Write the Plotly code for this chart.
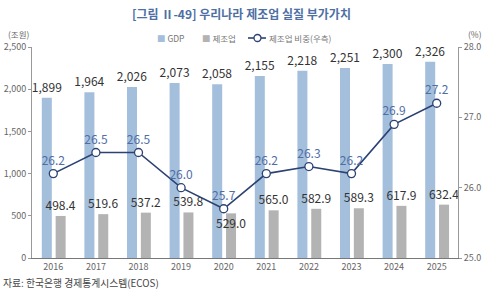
import plotly.graph_objects as go

years = [2016, 2017, 2018, 2019, 2020, 2021, 2022, 2023, 2024, 2025]
year_labels = [str(y) for y in years]
gdp = [1899, 1964, 2026, 2073, 2058, 2155, 2218, 2251, 2300, 2326]
mfg = [498.4, 519.6, 537.2, 539.8, 529.0, 565.0, 582.9, 589.3, 617.9, 632.4]
share = [26.2, 26.5, 26.5, 26.0, 25.7, 26.2, 26.3, 26.2, 26.9, 27.2]
series_names = ["GDP", "제조업", "제조업 비중(우측)"]

FONT = "Noto Sans CJK KR"
NUMFONT = "Liberation Sans Narrow, Noto Sans CJK KR"
BLUE_BAR = "#a4bfdc"
GREY_BAR = "#b3b3b3"
NAVY = "#2c4272"
LBL_BLUE = "#4f6ea6"

W = 0.235
OFF_G = -0.27
OFF_M = 0.055

gdp_txt = [f"{v:,}" for v in gdp]
mfg_txt = [f"{v:.1f}" for v in mfg]
mfg_txt_bar = [("" if y == 2020 else t) for y, t in zip(years, mfg_txt)]

fig = go.Figure()
fig.add_trace(go.Bar(
    x=years, y=gdp, name=series_names[0], width=W, offset=OFF_G,
    marker=dict(color=BLUE_BAR, line=dict(width=0)),
    text=gdp_txt, textposition="outside", cliponaxis=False, constraintext="none",
    textangle=0, showlegend=False,
    textfont=dict(family=NUMFONT, size=12, color="#333333"),
))
fig.add_trace(go.Bar(
    x=years, y=mfg, name=series_names[1], width=W, offset=OFF_M,
    marker=dict(color=GREY_BAR, line=dict(width=0)),
    text=mfg_txt_bar, textposition="outside", cliponaxis=False, constraintext="none",
    textangle=0, showlegend=False,
    textfont=dict(family=NUMFONT, size=12, color="#333333"),
))
fig.add_trace(go.Scatter(
    x=years, y=share, name=series_names[2], yaxis="y2",
    mode="lines+markers+text", showlegend=False,
    line=dict(color=NAVY, width=1.6),
    marker=dict(size=8, color="white", line=dict(color=NAVY, width=1.3)),
    text=[f"{v:.1f}" for v in share], textposition="top center",
    textfont=dict(family=NUMFONT, size=12, color=LBL_BLUE),
    cliponaxis=False,
))

i20 = years.index(2020)
fig.add_annotation(
    x=years[i20] + OFF_M + W / 2, y=mfg[i20], xref="x", yref="y",
    text=mfg_txt[i20], showarrow=False, yshift=-9,
    font=dict(family=NUMFONT, size=12, color="#333333"),
)

# ---- compact legend (paper coordinates) ----
PX0, PW, PY0, PH = 32, 426, 258, 211
def px(x):
    return (x - PX0) / PW
def py(y):
    return (PY0 - y) / PH

LEG_Y = 38
leg_font = dict(family=FONT, size=8.5, color="#777777")
fig.add_annotation(x=px(155), y=py(LEG_Y), xref="paper", yref="paper", xanchor="left",
                   yanchor="middle", showarrow=False, font=leg_font,
                   text=f"<span style='color:{BLUE_BAR}'>■</span> {series_names[0]}")
fig.add_annotation(x=px(200), y=py(LEG_Y), xref="paper", yref="paper", xanchor="left",
                   yanchor="middle", showarrow=False, font=leg_font,
                   text=f"<span style='color:{GREY_BAR}'>■</span> {series_names[1]}")
fig.add_shape(type="line", xref="paper", yref="paper", x0=px(248), x1=px(266),
              y0=py(LEG_Y), y1=py(LEG_Y), line=dict(color=NAVY, width=1.6))
fig.add_shape(type="circle", xref="paper", yref="paper", x0=px(254), x1=px(261),
              y0=py(LEG_Y + 3.5), y1=py(LEG_Y - 3.5), fillcolor="white",
              line=dict(color=NAVY, width=1.3))
fig.add_annotation(x=px(267), y=py(LEG_Y), xref="paper", yref="paper", xanchor="left",
                   yanchor="middle", showarrow=False, font=leg_font,
                   text=series_names[2])

fig.add_annotation(x=0, y=1, xref="paper", yref="paper", xanchor="right",
                   yanchor="bottom", xshift=0, yshift=5, text="(조원)", showarrow=False,
                   font=dict(family=FONT, size=8.5, color="#666666"))
fig.add_annotation(x=1, y=1, xref="paper", yref="paper", xanchor="left",
                   yanchor="bottom", xshift=8, yshift=5, text="(%)", showarrow=False,
                   font=dict(family=FONT, size=8.5, color="#666666"))
fig.add_annotation(x=0, y=0, xref="paper", yref="paper", xanchor="left",
                   yanchor="middle", xshift=-31, yshift=-25, text="자료: 한국은행 경제통계시스템(ECOS)",
                   showarrow=False, font=dict(family=FONT, size=9.8, color="#444444"))

fig.update_layout(
    width=483, height=290,
    margin=dict(l=32, r=25, t=47, b=32),
    paper_bgcolor="white", plot_bgcolor="white",
    font=dict(family=FONT, size=9, color="#666666"),
    title=dict(text="<b>[그림 Ⅱ-49] 우리나라 제조업 실질 부가가치</b>",
               x=0.5, xanchor="center", y=0.95, yanchor="middle",
               font=dict(family=FONT, size=12, color="#4d6fa3")),
    showlegend=False,
    barmode="overlay",
    xaxis=dict(range=[2015.5, 2025.5], tickmode="array", tickvals=years,
               ticktext=year_labels, showgrid=False, showline=True, automargin=False,
               linecolor="#777777", linewidth=1, ticks="", zeroline=False,
               tickfont=dict(family=FONT, size=9, color="#666666")),
    yaxis=dict(range=[0, 2500], tickvals=[0, 500, 1000, 1500, 2000, 2500],
               tickformat=",", showgrid=False, showline=True, linecolor="#999999",
               linewidth=1, ticks="outside", ticklen=3, tickcolor="#999999",
               zeroline=False, automargin=False,
               tickfont=dict(family=FONT, size=9, color="#666666")),
    yaxis2=dict(range=[25, 28], tickvals=[25, 26, 27, 28], tickformat=".1f",
                overlaying="y", side="right", showgrid=False, showline=True,
                linecolor="#999999", linewidth=1, ticks="outside", ticklen=3,
                tickcolor="#999999", zeroline=False, automargin=False,
                tickfont=dict(family=FONT, size=9, color="#666666")),
)

fig.write_html("out.html")
